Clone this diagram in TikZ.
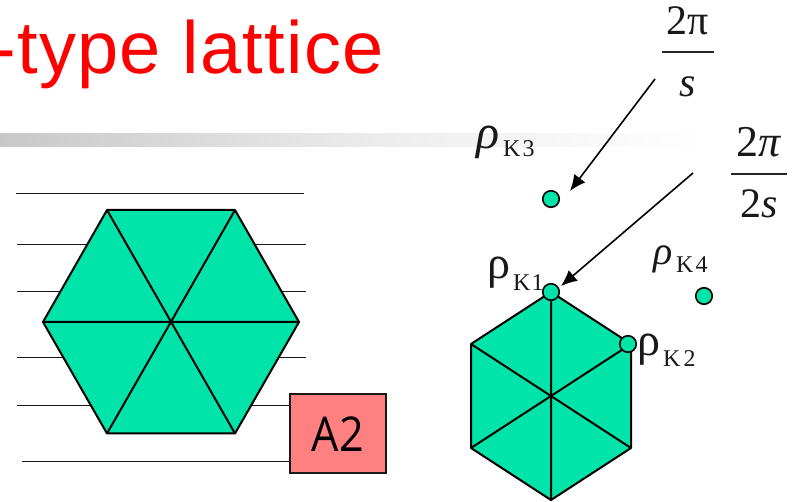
\documentclass[tikz,border=0pt]{standalone}
\usepackage{fontspec}
\setmainfont{Liberation Sans}
\newfontfamily\titleA[LetterSpace=1.7]{Liberation Sans}
\newfontfamily\serifA{Liberation Serif}
\newfontfamily\labelA[FakeStretch=0.9]{Open Sans}
\usetikzlibrary{arrows.meta}
\definecolor{hexgreen}{HTML}{00E4A9}
\definecolor{boxpink}{HTML}{FF8080}
\definecolor{barA}{HTML}{C8C8C8}
\definecolor{barB}{HTML}{EEEEEE}
\tikzset{
  x=1pt,y=-1pt,
  rule/.style={line width=1pt,black!90},
  hexline/.style={line width=2pt,black,line join=round},
  hexfill/.style={hexline,fill=hexgreen},
  dot/.style={circle,draw=black,line width=1.6pt,fill=hexgreen,inner sep=0pt,minimum size=16.5pt},
  pointer/.style={line width=1.6pt,-{Latex[length=16pt,width=14pt]}},
  mathtxt/.style={inner sep=0pt,anchor=base,font=\serifA\fontsize{42}{42}\selectfont,text=black!90},
  bigrho/.style={mathtxt,anchor=base west,font=\serifA\fontsize{46}{46}\selectfont},
  subtxt/.style={inner sep=0pt,anchor=base west,font=\serifA\fontsize{24}{24}\selectfont,text=black!90},
  fracbar/.style={line width=1.3pt,black!85},
}
\begin{document}
\begin{tikzpicture}
\useasboundingbox (0,0) rectangle (793,502);
\clip (0,0) rectangle (793,502);
% title
\node[inner sep=0pt,anchor=base east,text=red,font=\titleA\fontsize{74}{74}\selectfont] (title) at (384,74) {-type lattice};
% bar
\shade[left color=barA,right color=barB] (0,134) rectangle (400,147);
\shade[left color=barB,right color=white] (400,134) rectangle (707,147);
% left lines
\coordinate (l1a) at (16,193.5); \coordinate (l1b) at (304,193.5);
\coordinate (l2a) at (17,244.5); \coordinate (l2b) at (306,244.5);
\coordinate (l3a) at (17,291.5); \coordinate (l3b) at (306,291.5);
\coordinate (l4a) at (17,357.5); \coordinate (l4b) at (306,357.5);
\coordinate (l5a) at (17,405.5); \coordinate (l5b) at (290,405.5);
\coordinate (l6a) at (22,461.5); \coordinate (l6b) at (290,461.5);
\draw[rule] (l1a)--(l1b);
\draw[rule] (l2a)--(l2b);
\draw[rule] (l3a)--(l3b);
\draw[rule] (l4a)--(l4b);
\draw[rule] (l5a)--(l5b);
\draw[rule] (l6a)--(l6b);
% left hexagon
\coordinate (c) at (171,322);
\coordinate (a1) at (43,322); \coordinate (a2) at (107,210); \coordinate (a3) at (235,210);
\coordinate (a4) at (299,322); \coordinate (a5) at (235,433.5); \coordinate (a6) at (107,433.5);
\draw[hexfill] (a1)--(a2)--(a3)--(a4)--(a5)--(a6)--cycle;
\draw[hexline] (a1)--(a4) (a2)--(a5) (a3)--(a6);
% A2 box
\node[draw=black!90,line width=2pt,fill=boxpink,minimum width=96pt,minimum height=79pt,inner sep=0pt,font=\labelA\fontsize{48}{48}\selectfont] (box) at (338,434) {A2};
% right hexagon
\coordinate (b1) at (551,292); \coordinate (b2) at (631,344); \coordinate (b3) at (631,448);
\coordinate (b4) at (551,500); \coordinate (b5) at (471,448); \coordinate (b6) at (471,344);
\draw[hexfill] (b1)--(b2)--(b3)--(b4)--(b5)--(b6)--cycle;
\draw[hexline] (b1)--(b4) (b2)--(b5) (b3)--(b6);
% dots
\node[dot] (k1) at (551,292) {};
\node[dot] (k2) at (628,344) {};
\node[dot] (k3) at (551,199) {};
\node[dot] (k4) at (704,296) {};
% rho labels
\node[bigrho] (r1) at (487,279) {ρ};
\node[subtxt] (s1) at (513,291) {K\kern1pt 1};
\node[bigrho] (r2) at (637,356) {ρ};
\node[subtxt] (s2) at (663,367) {K\kern3pt 2};
\node[mathtxt,anchor=base west,font=\serifA\itshape\fontsize{48}{48}\selectfont] (r3) at (476,149) {ρ};
\node[subtxt] (s3) at (503,157) {K\kern2pt 3};
\node[mathtxt,anchor=base west,font=\serifA\itshape\fontsize{40}{40}\selectfont] (r4) at (653,265) {ρ};
\node[subtxt] (s4) at (676,273) {K\kern2pt 4};
% fractions
\node[mathtxt] (f1n) at (688,35) {2π};
\node[mathtxt,font=\serifA\itshape\fontsize{42}{42}\selectfont] (f1d) at (688,97) {s};
\coordinate (f1l) at (662,52); \coordinate (f1r) at (714,52);
\draw[fracbar] (f1l)--(f1r);
\node[mathtxt,font=\serifA\fontsize{44}{44}\selectfont] (f2n) at (759,157) {2{\itshape π}};
\node[mathtxt] (f2d) at (759,218) {2{\itshape s}};
\coordinate (f2l) at (731,174); \coordinate (f2r) at (787,174);
\draw[fracbar] (f2l)--(f2r);
% arrows
\coordinate (e1) at (655,79); \coordinate (t1) at (570,191);
\coordinate (e2) at (693,173); \coordinate (t2) at (561,286);
\draw[pointer] (e1)--(t1);
\draw[pointer] (e2)--(t2);
\end{tikzpicture}
\end{document}
